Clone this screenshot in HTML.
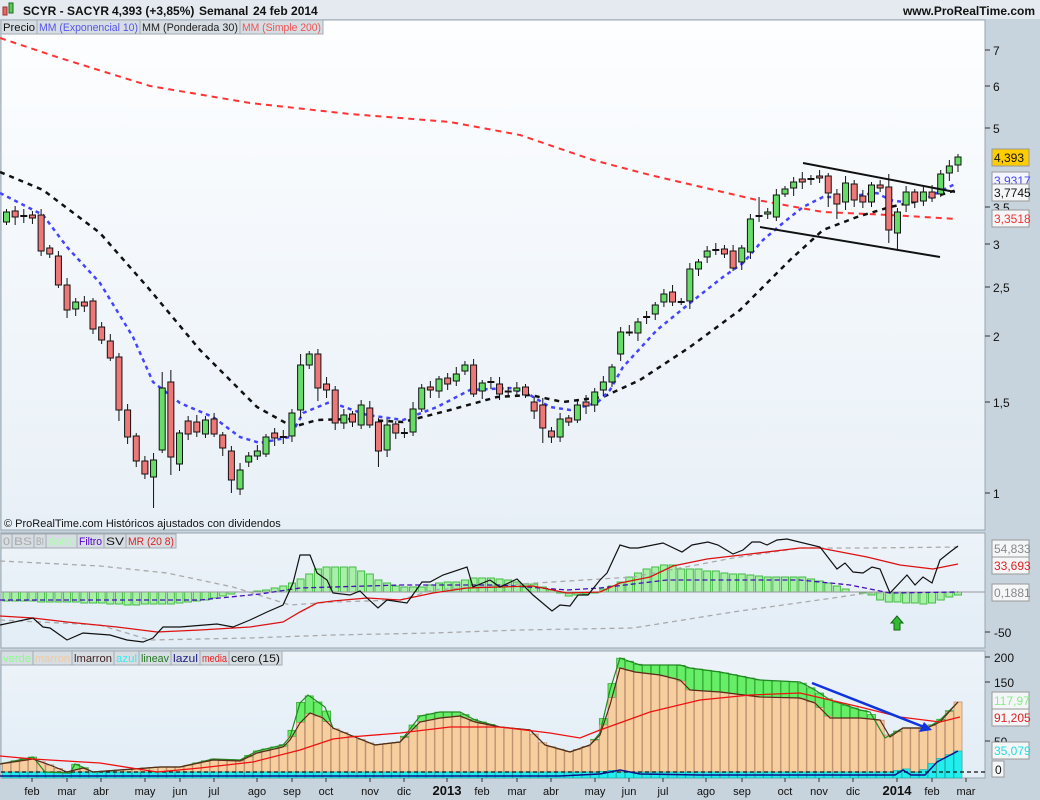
<!DOCTYPE html>
<html><head><meta charset="utf-8"><style>
html,body{margin:0;padding:0;background:#c7d3dd;}
svg{display:block;font-family:"Liberation Sans",sans-serif;}
</style></head><body>
<svg id="s" width="1040" height="800" xmlns="http://www.w3.org/2000/svg">
<defs>
<linearGradient id="gm" x1="0" y1="0" x2="0" y2="1"><stop offset="0" stop-color="#fdfeff"/><stop offset="1" stop-color="#e8f0f7"/></linearGradient>
<linearGradient id="gp" x1="0" y1="0" x2="0" y2="1"><stop offset="0" stop-color="#edf3f9"/><stop offset="1" stop-color="#e2edf6"/></linearGradient>
</defs>
<rect x="0" y="0" width="1040" height="800" fill="#c7d3dd"/>
<rect x="0" y="0" width="1040" height="19" fill="#e4eaef"/>
<rect x="1" y="20" width="984" height="510" fill="url(#gm)" stroke="#9aa6b0"/>
<rect x="1" y="533" width="984" height="115" fill="url(#gp)" stroke="#9aa6b0"/>
<rect x="1" y="651" width="984" height="127" fill="url(#gp)" stroke="#9aa6b0"/>
<g id="dyn"></g>
</svg>
<script>
const NS="http://www.w3.org/2000/svg";const g=document.getElementById('dyn');
function el(t,a,txt){const e=document.createElementNS(NS,t);for(const k in a)e.setAttribute(k,a[k]);if(txt!==undefined)e.textContent=txt;g.appendChild(e);return e;}
function interp(L,x){if(x<=L[0][0])return L[0][1];for(let i=1;i<L.length;i++){if(x<=L[i][0]){const a=L[i-1],b=L[i];return a[1]+(b[1]-a[1])*(x-a[0])/(b[0]-a[0]);}}return L[L.length-1][1];}
function pl(L,st,w,da){el('polyline',{points:L.map(p=>p.join(',')).join(' '),fill:'none',stroke:st,'stroke-width':w,'stroke-dasharray':da||'none'});}
const X=i=>6.5+8.65*i;
// header
el('rect',{x:3,y:7,width:4,height:8,fill:'#ee6666',stroke:'#933'});
el('rect',{x:9,y:3,width:4,height:10,fill:'#55cc55',stroke:'#262'});
el('text',{x:23,y:15,'font-size':12,'font-weight':'bold',fill:'#111'},'SCYR - SACYR');
el('text',{x:112,y:15,'font-size':12,'font-weight':'bold',fill:'#111'},'4,393 (+3,85%)');
el('text',{x:199,y:15,'font-size':12,'font-weight':'bold',fill:'#111'},'Semanal');
el('text',{x:253,y:15,'font-size':12,'font-weight':'bold',fill:'#111'},'24 feb 2014');
el('text',{x:1035,y:15,'font-size':12,'font-weight':'bold',fill:'#111','text-anchor':'end'},'www.ProRealTime.com');
// buttons
function btns(y,arr){for(const b of arr){el('rect',{x:b[0],y:y,width:b[1]-b[0],height:14,fill:'#d6dde3',stroke:'#a4acb4'});el('text',{x:b[0]+2,y:y+11,'font-size':11,fill:b[3],textLength:b[1]-b[0]-4,lengthAdjust:'spacingAndGlyphs'},b[2]);}}
btns(20,[[1,37,'Precio','#111'],[37,140,'MM (Exponencial 10)','#5555ee'],[140,240,'MM (Ponderada 30)','#222'],[240,323,'MM (Simple 200)','#ee5555']]);
btns(534,[[1,12,'0','#aaa'],[12,34,'BS','#aaa'],[34,46,'BI','#aaa'],[46,77,'Astro','#aaffaa'],[77,104,'Filtro','#5500cc'],[104,126,'SV','#111'],[126,176,'MR (20 8)','#dd2222']]);
btns(651,[[1,33,'verde','#88ff88'],[33,72,'marron','#f5c99a'],[72,114,'lmarron','#402020'],[114,139,'azul','#33eeee'],[139,171,'lineav','#227722'],[171,200,'lazul','#222288'],[200,229,'media','#ee2222'],[229,282,'cero (15)','#111']]);
// MAs main
pl([[0,38],[60,58],[150,86],[250,103],[350,114],[450,122],[520,135],[593,160],[650,175],[757,200],[823,212],[890,215],[957,219]],'#ff3333',2,'6,5');
pl([[0,172],[43,190],[100,233],[150,290],[200,350],[257,407],[293,427],[317,420],[350,419],[403,422],[450,410],[497,397],[530,395],[563,402],[603,397],[640,380],[690,347],[740,310],[790,260],[823,230],[857,217],[890,207],[923,200],[957,190]],'#111',2.5,'5,5');
pl([[0,193],[43,215],[67,247],[100,283],[133,337],[153,382],[180,403],[213,417],[240,437],[260,443],[290,437],[303,413],[330,402],[367,415],[403,420],[437,407],[470,390],[510,388],[530,395],[550,407],[570,410],[597,403],[610,390],[623,367],[657,330],[690,303],[723,277],[743,263],[763,240],[783,223],[803,207],[823,197],[843,197],[877,193],[890,200],[903,202],[923,200],[943,190],[957,183]],'#4444ff',2.5,'4,4');
// candles
const C=[[222,212],[211,217],[216,216],[215,218],[215,251],[248,254],[256,285],[285,310],[309,302],[302,306],[301,329],[327,340],[341,358],[357,410],[410,437],[436,461],[461,474],[477,460],[450,388],[382,457],[464,433],[421,434],[422,432],[434,420],[419,434],[435,448],[451,480],[489,470],[462,456],[456,451],[454,437],[433,438],[437,437],[436,413],[410,365],[365,354],[354,388],[384,390],[390,423],[423,415],[414,422],[425,405],[408,425],[422,451],[450,425],[424,433],[433,433],[432,409],[409,388],[387,390],[391,379],[378,384],[381,374],[371,365],[365,394],[391,383],[382,382],[384,394],[392,391],[391,388],[387,395],[402,411],[405,428],[431,437],[437,419],[418,422],[420,405],[402,406],[405,392],[390,382],[382,367],[354,332],[332,333],[333,322],[317,317],[314,305],[302,294],[292,302],[302,302],[301,269],[269,262],[257,251],[250,250],[249,254],[251,268],[262,248],[252,219],[216,216],[214,212],[217,195],[194,189],[188,182],[179,182],[179,179],[176,178],[176,193],[194,204],[202,183],[184,200],[196,202],[202,185],[185,188],[187,230],[233,212],[205,192],[192,202],[201,192],[192,198],[194,174],[173,166],[165,157]];
const ext={17:[0,27],18:[12,0],19:[6,10],34:[5,3],71:[0,3],95:[0,10],96:[0,12],102:[6,10],103:[0,8],87:[12,0],13:[0,3],26:[0,6],36:[0,10],43:[0,8],62:[0,8]};
C.forEach((c,i)=>{const x=X(i),t=Math.min(c[0],c[1]),b=Math.max(c[0],c[1]);const e=ext[i]||[0,0];const hi=t-3-((i*7)%5)-e[0],lo=b+3+((i*5)%6)+e[1];
el('line',{x1:x,y1:hi,x2:x,y2:lo,stroke:'#111','stroke-width':1});
const green=c[1]<c[0];
if(b-t<1){el('line',{x1:x-3.5,y1:t,x2:x+3.5,y2:t,stroke:'#111','stroke-width':2});}
else el('rect',{x:x-3,y:t,width:6,height:b-t,fill:green?'#66dd66':'#ee7777',stroke:'#111','stroke-width':1});});
// trend lines
el('line',{x1:803,y1:163,x2:955,y2:192,stroke:'#111','stroke-width':2});
el('line',{x1:760,y1:227,x2:940,y2:257,stroke:'#111','stroke-width':2});
el('text',{x:4,y:527,'font-size':11,fill:'#111'},'© ProRealTime.com  Históricos ajustados con dividendos');
// right axis main
const ax=[[7,50],[6,86],[5,128],['3,5',207],[3,244],['2,5',287],[2,336],['1,5',402],[1,493]];
ax.forEach(a=>{el('line',{x1:985,y1:a[1],x2:990,y2:a[1],stroke:'#333'});el('text',{x:993,y:a[1]+5,'font-size':12,fill:'#111'},a[0]);});
function box(y,txt,col,bg){el('rect',{x:992,y:y-8,width:37,height:17,fill:bg,stroke:'#999'});el('text',{x:994,y:y+5,'font-size':12,fill:col},txt);}
box(180,'3,9317','#4444ff','#f4f6ff');
box(192,'3,7745','#111','#f4f6f8');
box(157,'4,393','#111','#ffcc00');
box(218,'3,3518','#ee3333','#f4f6f8');
// panel2
const Z=592;
const H=[-9,-9,-9,-9,-10,-10,-10,-10,-10,-11,-11,-11,-12,-12,-13,-13,-12,-12,-12,-12,-11,-10,-9,-8,-6,-4,-2,0,0,1,2,4,6,9,13,18,23,25,25,25,25,21,18,12,9,6,5,5,5,7,9,10,10,12,14,14,14,13,12,10,8,8,5,2,-1,-4,-3,-2,-1,3,6,10,15,19,23,25,27,27,23,23,23,21,21,19,18,18,17,16,15,15,15,15,15,13,11,9,6,3,0,-1,-3,-8,-10,-10,-11,-11,-12,-11,-8,-5,-3];
H.forEach((h,i)=>{if(h===0)return;const x=X(i);el('rect',{x:x-3.5,y:h>0?Z-h:Z,width:7,height:Math.abs(h),fill:'#a8f0a8',stroke:'#44bb44','stroke-width':1});});
el('line',{x1:1,y1:Z,x2:985,y2:Z,stroke:'#999'});
pl([[0,561],[100,566],[167,573],[233,587],[290,605],[333,602],[400,600],[433,590],[520,584],[633,577],[733,558],[800,548],[867,548],[958,547]],'#aaa',1.3,'5,4');
pl([[0,620],[100,625],[150,640],[250,638],[333,635],[433,633],[520,630],[633,628],[733,612],[833,598],[867,593],[958,592]],'#aaa',1.3,'5,4');
pl([[0,600],[200,600],[260,594],[300,588],[400,585],[500,585],[567,590],[600,588],[667,580],[800,580],[850,585],[890,593],[958,592]],'#4411bb',1.3,'5,3');
pl([[0,616],[33,618],[67,622],[117,627],[157,632],[200,630],[250,627],[283,622],[300,612],[317,603],[333,601],[367,598],[400,600],[433,593],[467,588],[533,586],[567,593],[600,592],[620,583],[650,577],[673,566],[707,559],[750,554],[800,548],[820,548],[867,557],[900,565],[933,569],[958,564]],'#dd1111',1.3);
pl([[0,625],[33,618],[43,627],[50,628],[67,640],[83,633],[110,635],[127,640],[143,642],[153,638],[163,627],[180,627],[217,624],[233,627],[250,620],[267,612],[283,605],[293,583],[300,555],[310,555],[317,573],[327,580],[333,593],[350,595],[360,591],[367,598],[378,608],[387,600],[407,603],[422,582],[430,582],[443,575],[467,567],[473,587],[490,580],[500,587],[517,579],[533,595],[552,611],[560,605],[570,606],[578,595],[588,595],[600,580],[607,573],[620,545],[630,548],[638,548],[663,543],[682,552],[692,545],[708,542],[718,545],[733,554],[743,550],[752,542],[760,542],[767,545],[777,540],[787,539],[820,547],[837,569],[845,563],[853,572],[863,573],[872,567],[880,569],[890,593],[907,575],[915,585],[923,577],[932,583],[940,560],[950,552],[958,546]],'#111',1.2);
el('polygon',{points:'897,616 891,623 894,623 894,630 900,630 900,623 903,623',fill:'#33bb33',stroke:'#116611'});
[['54,833',548,'#888'],['33,693',565,'#dd2222'],['0,1881',592,'#888']].forEach(b=>{el('rect',{x:992,y:b[1]-8,width:37,height:17,fill:'#f4f6f8',stroke:'#999'});el('text',{x:994,y:b[1]+5,'font-size':12,fill:b[2]},b[0]);});
el('line',{x1:985,y1:632,x2:990,y2:632,stroke:'#333'});el('text',{x:994,y:637,'font-size':12,fill:'#111'},'-50');
// panel3
const BR=[[0,764],[33,759],[50,765],[67,772],[83,768],[93,772],[160,767],[180,767],[213,760],[240,761],[257,753],[283,747],[290,740],[300,723],[310,713],[323,718],[333,728],[350,735],[375,745],[400,742],[420,722],[440,718],[460,716],[475,722],[500,727],[530,730],[545,745],[570,752],[590,745],[600,735],[610,705],[620,668],[635,672],[660,675],[680,680],[690,690],[720,692],[760,697],[800,698],[815,703],[830,718],[860,718],[880,720],[890,737],[903,728],[927,728],[940,722],[958,702]];
const GR=[[0,764],[33,757],[45,772],[70,773],[75,764],[85,768],[93,772],[160,767],[180,767],[213,759],[240,760],[257,751],[283,745],[290,737],[300,703],[308,695],[325,707],[333,728],[350,735],[375,745],[400,742],[420,716],[440,712],[460,712],[475,720],[500,727],[530,730],[545,745],[570,752],[590,745],[600,733],[610,690],[620,658],[640,665],[680,665],[690,668],[720,672],[760,680],[800,682],[815,690],[830,700],[860,710],[870,712],[885,738],[903,728],[927,728],[940,720],[958,702]];
const CY=[[0,772],[600,772],[610,770],[620,772],[895,772],[903,767],[911,772],[920,772],[937,760],[958,751]];
const BASE=772;
for(let i=0;i<111;i++){const x=X(i);const b=interp(BR,x),gr=Math.min(interp(GR,x),b);
if(gr<b-0.5)el('rect',{x:x-4,y:gr,width:8,height:b-gr,fill:'#66ee66',stroke:'#33aa33','stroke-width':0.8});
if(b<BASE)el('rect',{x:x-4,y:b,width:8,height:BASE-b,fill:'#f7cf9f',stroke:'#c09070','stroke-width':0.8});
const cy=interp(CY,x);el('rect',{x:x-4,y:Math.min(cy,773),width:8,height:778-Math.min(cy,773),fill:'#22eeee',stroke:'#11aaaa','stroke-width':0.6});}
el('line',{x1:1,y1:772,x2:985,y2:772,stroke:'#111','stroke-dasharray':'4,3','stroke-width':1.2});
pl(GR,'#228822',1.2);
pl(BR,'#5a2a1a',1.2);
pl([[0,776],[560,776],[600,774],[620,770],[640,774],[700,775],[895,775],[903,770],[911,775],[925,775],[937,762],[958,751]],'#111188',1.5);
pl([[0,756],[33,759],[100,763],[157,772],[200,768],[253,762],[300,750],[333,739],[350,737],[400,733],[450,727],[500,727],[550,733],[580,738],[600,730],[650,712],[700,700],[750,695],[800,693],[830,700],[860,707],[900,717],[940,722],[960,717]],'#ee1111',1.3);
el('line',{x1:812,y1:683,x2:924,y2:727,stroke:'#1133dd','stroke-width':2.5});
el('polygon',{points:'932,730 919,732 924,722',fill:'#1133dd'});
[['200',657],['150',682],['50',741]].forEach(a=>{el('line',{x1:985,y1:a[1],x2:990,y2:a[1],stroke:'#333'});el('text',{x:994,y:a[1]+5,'font-size':12,fill:'#111'},a[0]);});
[['117,97',700,'#88ee88'],['91,205',717,'#dd2222'],['35,079',750,'#22dddd']].forEach(b=>{el('rect',{x:992,y:b[1]-8,width:37,height:17,fill:'#f4f6f8',stroke:'#999'});el('text',{x:994,y:b[1]+5,'font-size':12,fill:b[2]},b[0]);});
el('rect',{x:992,y:761,width:12,height:16,fill:'#f4f6f8',stroke:'#999'});el('text',{x:995,y:774,'font-size':12,fill:'#111'},'0');
// x axis
[['feb',32],['mar',67],['abr',101],['may',145],['jun',180],['jul',214],['ago',257],['sep',292],['oct',326],['nov',370],['dic',404],['2013',447,1],['feb',482],['mar',517],['abr',551],['may',595],['jun',629],['jul',663],['ago',706],['sep',742],['oct',785],['nov',819],['dic',853],['2014',897,1],['feb',932],['mar',966]].forEach(a=>{
el('line',{x1:a[1],y1:778,x2:a[1],y2:782,stroke:'#333'});
el('text',{x:a[1],y:795,'font-size':a[2]?13:11,'font-weight':a[2]?'bold':'normal','text-anchor':'middle',fill:'#111'},a[0]);});
</script>
</body></html>
